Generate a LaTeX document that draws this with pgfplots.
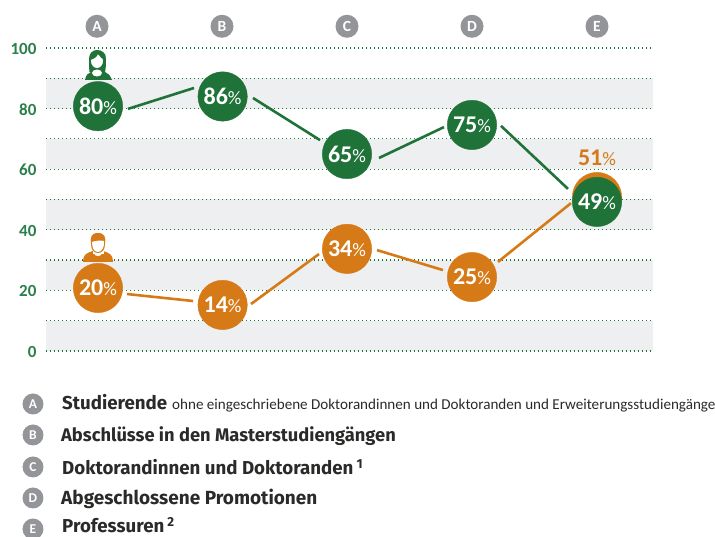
\documentclass[border=0pt]{standalone}
\usepackage{pgfplots}
\pgfplotsset{compat=1.18}
\usepackage{fontspec}
\setmainfont{Fira Sans}
\newfontfamily\smallf{Carlito}
\definecolor{gr}{HTML}{1F7339}
\definecolor{tickgr}{HTML}{2A7F4A}
\definecolor{ora}{HTML}{D67A17}
\definecolor{band}{HTML}{EEEFF1}
\definecolor{lett}{HTML}{939598}
\definecolor{txt}{HTML}{2B2A29}
\newcommand{\pct}{\smallf{\bfseries\fontsize{24}{24}\selectfont\pgfplotspointmeta}{\fontsize{19}{19}\selectfont\%}}
\begin{document}
\begin{tikzpicture}
\begin{axis}[
  set layers=standard,
  at={(0,0)},anchor=south west,
  width=607pt,height=303pt,scale only axis,
  xmin=-0.408,xmax=4.448,ymin=0,ymax=100,
  clip=false,
  axis line style={draw=none},
  major tick length=0pt,minor tick length=0pt,
  xtick={0,1,2,3,4},xticklabels={A,B,C,D,E},
  xticklabel pos=upper,
  xticklabel style={circle,fill=lett,text=white,inner sep=0pt,minimum size=23pt,font=\smallf\fontsize{15.5}{16}\selectfont\bfseries,yshift=10pt},
  xticklabel shift=0pt,
  ytick={0,20,40,60,80,100},
  minor ytick={10,30,50,70,90},
  yticklabel style={text=tickgr,font=\smallf\fontsize{17}{18}\selectfont\bfseries,xshift=-6pt,yshift=-1pt},
  /pgf/number format/assume math mode=true,
  ymajorgrids,yminorgrids,
  grid style={draw=gr,line width=1.2pt,dash pattern=on 1.2pt off 2.8pt},
  major grid style={draw=gr,line width=1.2pt,dash pattern=on 1.2pt off 2.8pt},
  minor grid style={draw=gr,line width=1.2pt,dash pattern=on 1.2pt off 2.8pt},
]
% bands
\addplot[/pgfplots/on layer=axis background,fill=band,draw=none,forget plot] coordinates {(-0.408,80)(4.448,80)(4.448,90)(-0.408,90)} --cycle;
\addplot[/pgfplots/on layer=axis background,fill=band,draw=none,forget plot] coordinates {(-0.408,60)(4.448,60)(4.448,70)(-0.408,70)} --cycle;
\addplot[/pgfplots/on layer=axis background,fill=band,draw=none,forget plot] coordinates {(-0.408,40)(4.448,40)(4.448,50)(-0.408,50)} --cycle;
\addplot[/pgfplots/on layer=axis background,fill=band,draw=none,forget plot] coordinates {(-0.408,20)(4.448,20)(4.448,30)(-0.408,30)} --cycle;
\addplot[/pgfplots/on layer=axis background,fill=band,draw=none,forget plot] coordinates {(-0.408,0)(4.448,0)(4.448,10)(-0.408,10)} --cycle;
% green segments
\addplot[gr,line width=2.6pt,forget plot] coordinates {(.248,79.9)(.776,86.8)};
\addplot[gr,line width=2.6pt,forget plot] coordinates {(1.248,83.5)(1.784,69.6)};
\addplot[gr,line width=2.6pt,forget plot] coordinates {(2.256,63.7)(2.776,73.9)};
\addplot[gr,line width=2.6pt,forget plot] coordinates {(3.232,74.3)(3.768,53.5)};
% orange segments
\addplot[ora,line width=2.6pt,forget plot] coordinates {(.24,18.8)(.768,16.5)};
\addplot[ora,line width=2.6pt,forget plot] coordinates {(1.232,15.5)(1.776,32.0)};
\addplot[ora,line width=2.6pt,forget plot] coordinates {(2.24,33.3)(2.768,26.7)};
\addplot[ora,line width=2.6pt,forget plot] coordinates {(3.208,29.4)(3.792,48.8)};
% orange circles
\addplot[only marks,mark=*,mark size=24.7pt,ora,mark options={draw=none,fill=ora},
  point meta=explicit symbolic,nodes near coords={\pct},
  nodes near coords style={anchor=center,text=white,inner sep=0pt}]
  coordinates {(0.008,20.8)[20] (1.005,15.2)[14] (2,33.7)[34] (3,24.4)[25]};
\addplot[only marks,mark=*,mark size=24.7pt,ora,mark options={draw=none,fill=ora},
  point meta=explicit symbolic,nodes near coords={\pct},
  nodes near coords style={anchor=center,text=ora,inner sep=0pt,yshift=39pt}]
  coordinates {(4,50.8)[51]};
% green circles
\addplot[only marks,mark=*,mark size=24.7pt,gr,mark options={draw=none,fill=gr},
  point meta=explicit symbolic,nodes near coords={\pct},
  nodes near coords style={anchor=center,text=white,inner sep=0pt}]
  coordinates {(0.008,80.8)[80] (1.005,84)[86] (2,65)[65] (3,74.6)[75] (4,49.2)[49]};
\end{axis}
\path[use as bounding box] (-46pt,-186pt) rectangle (669pt,351pt);
\begin{scope}[x=1pt,y=-1pt,shift={(-46pt,351pt)}]
% female icon
\fill[gr] (85,80) .. controls (86,75) and (88,73) .. (91,72) -- (89.5,72) .. controls (89,68) and (89,63) .. (89,59) .. controls (89,53) and (93,50) .. (97,50) .. controls (102,50) and (106,53) .. (106,59) .. controls (106,63) and (106,68) .. (105,72) .. controls (108,73) and (110,75) .. (112,80) -- cycle;
\fill[white] (97,61) ellipse (6pt and 7pt);
\fill[gr] (90,60) .. controls (94,59) and (97,57) .. (98,54) .. controls (100,57) and (102,59) .. (105,60) -- (105,54) -- (90,54) -- cycle;
\fill[white] (97,73) ellipse (5pt and 3.5pt);
% male icon
\fill[ora] (83,262) .. controls (83,255) and (86,253) .. (93,251) -- (103,251) .. controls (110,253) and (113,255) .. (113,262) -- cycle;
\fill[white] (92.5,249) rectangle (103.5,254);
\fill[white] (98,254) ellipse (3.5pt and 2pt);
\fill[ora] (91,244) .. controls (90,238) and (91,233) .. (98,233) .. controls (105,233) and (106,238) .. (105,244) .. controls (105,250) and (102,253) .. (98,253) .. controls (94,253) and (91,250) .. (91,244) -- cycle;
\fill[white] (92,242) .. controls (94,241) and (101,240) .. (104,241) .. controls (104.5,247) and (102,252) .. (98,252) .. controls (94,252) and (92,248) .. (92,242) -- cycle;
% legend
\foreach \l/\yy in {A/404,B/435,C/467,D/498,E/529}{
  \node[circle,fill=lett,text=white,inner sep=0pt,minimum size=21pt,font=\smallf\fontsize{13.5}{14}\selectfont\bfseries] at (33,\yy) {\l};
}
\node[anchor=base west,inner sep=0pt,text=txt,font=\fontsize{18.7}{20}\selectfont\bfseries] (st) at (62,410) {Studierende};
\node[anchor=base west,inner sep=0pt,text=txt,font=\smallf\fontsize{15.1}{16}\selectfont] at (172,410) {ohne eingeschriebene Doktorandinnen und Doktoranden und Erweiterungsstudiengänge};
\node[anchor=base west,inner sep=0pt,text=txt,font=\fontsize{18.3}{20}\selectfont\bfseries] at (61,442) {Abschlüsse in den Masterstudiengängen};
\node[anchor=base west,inner sep=0pt,text=txt,font=\fontsize{18.7}{20}\selectfont\bfseries] at (62,475) {Doktorandinnen und Doktoranden\,\textsuperscript{1}};
\node[anchor=base west,inner sep=0pt,text=txt,font=\fontsize{19}{20}\selectfont\bfseries] at (61,505) {Abgeschlossene Promotionen};
\node[anchor=base west,inner sep=0pt,text=txt,font=\fontsize{18.7}{20}\selectfont\bfseries] at (62,532.5) {Professuren\,\textsuperscript{2}};
\end{scope}
\end{tikzpicture}
\end{document}
